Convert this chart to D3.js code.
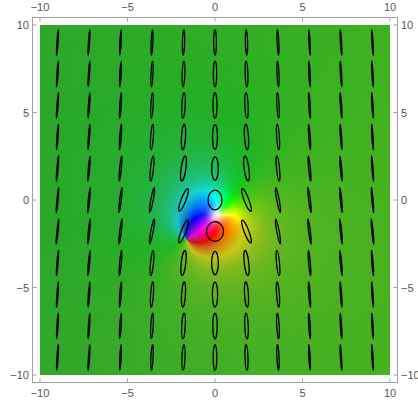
<!DOCTYPE html>
<html><head><meta charset="utf-8">
<script src="https://cdn.jsdelivr.net/npm/d3@7"></script>
<style>html,body{margin:0;padding:0;background:#fff;}svg{display:block;}</style>
</head><body>
<script>
// ---- data ----
const xCenters = [-9,-7.2,-5.4,-3.6,-1.8,0,1.8,3.6,5.4,7.2,9];
const yCenters = [9,7.2,5.4,3.6,1.8,0,-1.8,-3.6,-5.4,-7.2,-9];
const tickValues = [-10,-5,0,5,10];
// full minor-axis length (data units), rows top->bottom, cols left->right
const minorAxis = [
 [0.07,0.07,0.074,0.10,0.126,0.16,0.126,0.10,0.074,0.07,0.07],
 [0.07,0.07,0.08,0.114,0.154,0.19,0.154,0.114,0.08,0.07,0.07],
 [0.07,0.074,0.086,0.13,0.19,0.23,0.19,0.13,0.086,0.074,0.07],
 [0.07,0.074,0.09,0.154,0.23,0.28,0.23,0.154,0.09,0.074,0.07],
 [0.07,0.08,0.10,0.17,0.27,0.38,0.27,0.17,0.10,0.08,0.07],
 [0.07,0.08,0.10,0.14,0.27,0.80,0.27,0.14,0.10,0.08,0.07],
 [0.07,0.08,0.10,0.14,0.27,0.97,0.27,0.14,0.10,0.08,0.07],
 [0.07,0.08,0.10,0.17,0.26,0.38,0.26,0.17,0.10,0.08,0.07],
 [0.07,0.074,0.09,0.16,0.22,0.30,0.22,0.16,0.09,0.074,0.07],
 [0.07,0.074,0.086,0.14,0.20,0.25,0.20,0.14,0.086,0.074,0.07],
 [0.07,0.07,0.08,0.126,0.17,0.21,0.17,0.126,0.08,0.07,0.07]
];
// full major-axis length (data units)
const majorAxis = [
 [1.46,1.46,1.46,1.46,1.46,1.46,1.46,1.46,1.46,1.46,1.46],
 [1.46,1.46,1.46,1.46,1.46,1.46,1.46,1.46,1.46,1.46,1.46],
 [1.46,1.46,1.46,1.46,1.46,1.46,1.46,1.46,1.46,1.46,1.46],
 [1.46,1.46,1.46,1.46,1.46,1.42,1.46,1.46,1.46,1.46,1.46],
 [1.46,1.46,1.46,1.46,1.44,1.33,1.44,1.46,1.46,1.46,1.46],
 [1.46,1.46,1.46,1.44,1.38,1.12,1.38,1.44,1.46,1.46,1.46],
 [1.46,1.46,1.46,1.44,1.38,1.12,1.38,1.44,1.46,1.46,1.46],
 [1.46,1.46,1.46,1.46,1.44,1.33,1.44,1.46,1.46,1.46,1.46],
 [1.46,1.46,1.46,1.46,1.46,1.42,1.46,1.46,1.46,1.46,1.46],
 [1.46,1.46,1.46,1.46,1.46,1.46,1.46,1.46,1.46,1.46,1.46],
 [1.46,1.46,1.46,1.46,1.46,1.46,1.46,1.46,1.46,1.46,1.46]
];
// tilt in degrees (clockwise positive)
const tiltDeg = [
 [3.5,3.5,3,2.5,1.5,0,-1.5,-2.5,-3,-3.5,-3.5],
 [3.5,3.5,3,2.5,2,0,-2,-2.5,-3,-3.5,-3.5],
 [4,4,3.5,3,2.5,0,-2.5,-3,-3.5,-4,-4],
 [4,4,4,4,3.5,0,-3.5,-4,-4,-4,-4],
 [4.5,5,5.5,6,8,0,-8,-6,-5.5,-5,-4.5],
 [5,5.5,7,10.5,21,0,-21,-10.5,-7,-5.5,-5],
 [5.5,5.5,7,10.5,21,0,-21,-10.5,-7,-5.5,-5.5],
 [4.5,5,5,5.5,6.5,0,-6.5,-5.5,-5,-5,-4.5],
 [4,4,4,4,3.5,0,-3.5,-4,-4,-4,-4],
 [3.5,3.5,3.5,3,2.5,0,-2.5,-3,-3.5,-3.5,-3.5],
 [3.5,3.5,3,2.5,2,0,-2,-2.5,-3,-3.5,-3.5]
];
// background field: uniform part (hue at x=-10 and x=10) + localized singular part
const fieldBaseHue = [117, 107];
const fieldCenter = [0.08, -0.88];
const fieldStrength = [3.9];

// ---- layout ----
const W = 418, H = 405;
const x = d3.scaleLinear().domain([-10,10]).range([40,390]);
const y = d3.scaleLinear().domain([-10,10]).range([375,25]);
const frame = {l:32.5, r:397.5, t:17.5, b:382.5};

const svg = d3.select("body").append("svg").attr("width",W).attr("height",H);

// background density via canvas
const px0 = Math.round(x(-10)), px1 = Math.round(x(10));
const py0 = Math.round(y(10)), py1 = Math.round(y(-10));
const cw = px1-px0, ch = py1-py0;
const cv = document.createElement("canvas");
cv.width = cw; cv.height = ch;
const ctx = cv.getContext("2d");
const img = ctx.createImageData(cw, ch);
const baseHue = d3.scaleLinear().domain([-10,10]).range(fieldBaseHue);
for (let j=0;j<ch;j++){
  const yv = y.invert(py0+j+0.5);
  for (let i=0;i<cw;i++){
    const xv = x.invert(px0+i+0.5);
    const bh = baseHue(xv)*Math.PI/180;
    const cRe = Math.cos(bh), cIm = Math.sin(bh);
    const wx = xv-fieldCenter[0], wy = yv-fieldCenter[1];
    const r = Math.max(1e-4, Math.hypot(wx,wy));
    const th = Math.atan2(wy,wx);
    const thd = th*180/Math.PI;
    const alpha = (thd + 74.5 - 10*Math.cos(th) - 14.5*Math.cos(2*th) + 9*Math.sin(th))*Math.PI/180;
    const t = fieldStrength[0]/Math.pow(r,1.75);
    const fr = cRe + t*Math.cos(alpha), fi = cIm + t*Math.sin(alpha);
    let hue = Math.atan2(fi,fr)*180/Math.PI; if (hue<0) hue+=360;
    let l = 0.41 + 0.11*Math.min(1, t/4);
    const s = 0.64 + 0.36*Math.min(1, t/2.5) + 0.005*xv;
    const wt = Math.exp(-Math.pow(r/0.45,2));
    l = l + (1-l)*0.88*wt;
    const c = d3.rgb(d3.hsl(hue, Math.min(1,s), l));
    const k = 4*(j*cw+i);
    img.data[k]=c.r; img.data[k+1]=c.g; img.data[k+2]=c.b; img.data[k+3]=255;
  }
}
ctx.putImageData(img,0,0);
svg.append("image").attr("x",px0).attr("y",py0).attr("width",cw).attr("height",ch)
  .attr("preserveAspectRatio","none").attr("href", cv.toDataURL());

// ellipses
const cells = [];
yCenters.forEach((yv,ri)=>xCenters.forEach((xv,ci)=>cells.push({
  x:xv, y:yv, minor:minorAxis[ri][ci], major:majorAxis[ri][ci], tilt:tiltDeg[ri][ci]})));
svg.append("g").selectAll("ellipse").data(cells).join("ellipse")
  .attr("cx",0).attr("cy",0)
  .attr("rx",d=>(x(d.minor/2)-x(0)))
  .attr("ry",d=>(y(0)-y(d.major/2)))
  .attr("transform",d=>`translate(${x(d.x)},${y(d.y)}) rotate(${d.tilt})`)
  .attr("fill","none").attr("stroke","#000").attr("stroke-width",1.3);

// frame
const fg = svg.append("g").attr("stroke","#a0a0a0").attr("stroke-width",1).attr("fill","none");
fg.append("rect").attr("x",frame.l).attr("y",frame.t).attr("width",frame.r-frame.l).attr("height",frame.b-frame.t);
const tl = 4;
tickValues.forEach(v=>{
  fg.append("line").attr("x1",x(v)).attr("x2",x(v)).attr("y1",frame.t).attr("y2",frame.t+tl);
  fg.append("line").attr("x1",x(v)).attr("x2",x(v)).attr("y1",frame.b).attr("y2",frame.b-tl);
  fg.append("line").attr("y1",y(v)).attr("y2",y(v)).attr("x1",frame.l).attr("x2",frame.l+tl);
  fg.append("line").attr("y1",y(v)).attr("y2",y(v)).attr("x1",frame.r).attr("x2",frame.r-tl);
});
const fmt = v => (v<0?"\u2212":"")+Math.abs(v);
const tg = svg.append("g").attr("font-family","'Liberation Sans', Arial, sans-serif").attr("font-size",11).attr("fill","#555");
tickValues.forEach(v=>{
  tg.append("text").attr("x",x(v)).attr("y",10.5).attr("text-anchor","middle").text(fmt(v));
  tg.append("text").attr("x",x(v)).attr("y",397).attr("text-anchor","middle").text(fmt(v));
  tg.append("text").attr("x",29).attr("y",y(v)+4).attr("text-anchor","end").text(fmt(v));
  tg.append("text").attr("x",401).attr("y",y(v)+4).attr("text-anchor","start").text(fmt(v));
});
</script>
</body></html>
